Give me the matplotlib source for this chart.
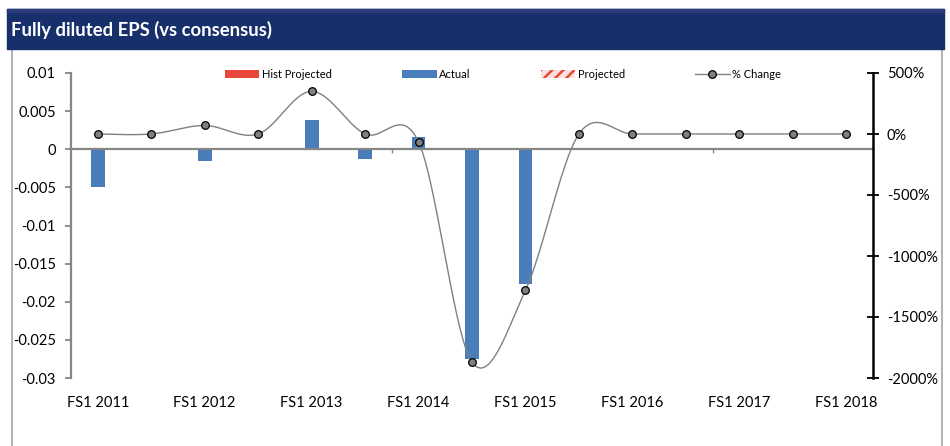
import numpy as np
import matplotlib
matplotlib.use("Agg")
import matplotlib.pyplot as plt
from matplotlib.patches import Rectangle, Patch
from matplotlib.lines import Line2D

plt.rcParams['font.family'] = ['Lato', 'DejaVu Sans']

# ---- data ----
categories = ['FS1 2011', 'FS2 2011', 'FS1 2012', 'FS2 2012', 'FS1 2013', 'FS2 2013',
              'FS1 2014', 'FS2 2014', 'FS1 2015', 'FS2 2015', 'FS1 2016', 'FS2 2016',
              'FS1 2017', 'FS2 2017', 'FS1 2018']
actual = [-0.005, 0, -0.0015, 0, 0.0039, -0.0013, 0.0016, -0.0275, -0.0177,
          0, 0, 0, 0, 0, 0]
pct_change = [0, 0, 70, 0, 350, 0, -65, -1870, -1280, 0, 0, 0, 0, 0, 0]
left_ticks = [-0.03, -0.025, -0.02, -0.015, -0.01, -0.005, 0, 0.005, 0.01]
left_labels = ['-0.03', '-0.025', '-0.02', '-0.015', '-0.01', '-0.005', '0', '0.005', '0.01']
right_ticks = [-2000, -1500, -1000, -500, 0, 500]
right_labels = ['-2000%', '-1500%', '-1000%', '-500%', '0%', '500%']
minor_cat_ticks = [5.5, 11.5]

blue = '#4a7ebb'
red = '#e8473b'
gray = '#868686'


def smooth(xs, ys, n=40):
    # bezier smoothing like the office "smoothed line" option
    xs = np.asarray(xs, float)
    ys = np.asarray(ys, float)
    outx, outy = [], []
    m = len(xs)
    for i in range(m - 1):
        x0, y0 = (xs[i - 1], ys[i - 1]) if i > 0 else (xs[i], ys[i])
        x1, y1 = xs[i], ys[i]
        x2, y2 = xs[i + 1], ys[i + 1]
        x3, y3 = (xs[i + 2], ys[i + 2]) if i + 2 < m else (xs[i + 1], ys[i + 1])
        cx1, cy1 = x1 + (x2 - x0) / 6, y1 + (y2 - y0) / 6
        cx2, cy2 = x2 - (x3 - x1) / 6, y2 - (y3 - y1) / 6
        t = np.linspace(0, 1, n)
        a, b, c, d = (1 - t) ** 3, 3 * (1 - t) ** 2 * t, 3 * (1 - t) * t ** 2, t ** 3
        outx.append(a * x1 + b * cx1 + c * cx2 + d * x2)
        outy.append(a * y1 + b * cy1 + c * cy2 + d * y2)
    return np.concatenate(outx), np.concatenate(outy)


W, H = 950, 446
fig = plt.figure(figsize=(W / 100, H / 100), dpi=100)

# header bar and panel frame
fig.patches.append(Rectangle((12 / W, -0.02), (942 - 12) / W, 1 - 49 / H + 0.02,
                             transform=fig.transFigure, fill=False,
                             edgecolor='#a6a6a6', lw=1.2))
fig.patches.append(Rectangle((7 / W, 1 - 49 / H), (944 - 7) / W, 40 / H,
                             transform=fig.transFigure, color='#17306b'))
fig.patches.append(Rectangle((7 / W, 1 - 12 / H), (944 - 7) / W, 3 / H,
                             transform=fig.transFigure, color='#2c3b7c'))
fig.text(11 / W, 1 - 30 / H, 'Fully diluted EPS (vs consensus)', color='white',
         fontsize=13.3, fontweight='bold', va='center', ha='left')

ax = fig.add_axes([71 / W, 1 - 378 / H, (873 - 71) / W, (378 - 73) / H])
x = np.arange(len(categories))
ax.bar(x, actual, width=0.26, color=blue, zorder=2)
ax.axhline(0, color=gray, lw=1.6, zorder=3)
ax.set_xlim(-0.5, len(categories) - 0.5)
ax.set_ylim(-0.03, 0.01)
ax.set_yticks(left_ticks)
ax.set_yticklabels(left_labels)
ax.set_xticks(x[::2])
ax.set_xticklabels(categories[::2])
ax.tick_params(axis='x', length=0, pad=13, labelsize=10.5, colors='black')
ax.tick_params(axis='y', length=4, width=1.3, color=gray, pad=7, labelsize=10.5)
for s in ['top', 'right', 'bottom']:
    ax.spines[s].set_visible(False)
ax.spines['left'].set_color(gray)
ax.spines['left'].set_linewidth(1.6)

# small tick marks hanging under the zero line
sec = ax.secondary_xaxis(0.75)
sec.set_xticks(minor_cat_ticks)
sec.set_xticklabels([''] * len(minor_cat_ticks))
sec.tick_params(length=3, width=1, color=gray, direction='in',
                labeltop=False, labelbottom=False)
for s in sec.spines.values():
    s.set_visible(False)

ax2 = ax.twinx()
ax2.set_ylim(-2000, 500)
ax2.set_yticks(right_ticks)
ax2.set_yticklabels(right_labels)
ax2.tick_params(axis='y', direction='inout', length=8, width=1.3, color='black',
                pad=6, labelsize=10.5)
for s in ['top', 'left', 'bottom']:
    ax2.spines[s].set_visible(False)
ax2.spines['right'].set_color('black')
ax2.spines['right'].set_linewidth(1.8)

sx, sy = smooth(x, pct_change)
ax2.plot(sx, sy, color='#808080', lw=1.0, zorder=3)
ax2.plot(x, pct_change, 'o', ms=5.5, mfc='#808080', mec='black', mew=0.9, zorder=4)

plt.rcParams['hatch.color'] = red
plt.rcParams['hatch.linewidth'] = 1.8
handles = [
    Patch(facecolor=red, edgecolor='none', label='Hist Projected'),
    Patch(facecolor=blue, edgecolor='none', label='Actual'),
    Patch(facecolor='#fbe1de', edgecolor=red, hatch='///', lw=0, label='Projected'),
    Line2D([], [], color='#808080', lw=1, marker='o', ms=5.5, mfc='#808080',
           mec='black', mew=0.9, label='% Change'),
]
fig.legend(handles=handles, loc='center left', bbox_to_anchor=(225 / W, 1 - 74 / H),
           ncol=4, frameon=False, fontsize=8, handlelength=3.1, handleheight=0.75,
           handletextpad=0.25, columnspacing=6.3, borderpad=0, borderaxespad=0)

fig.savefig('out.png', dpi=100)
